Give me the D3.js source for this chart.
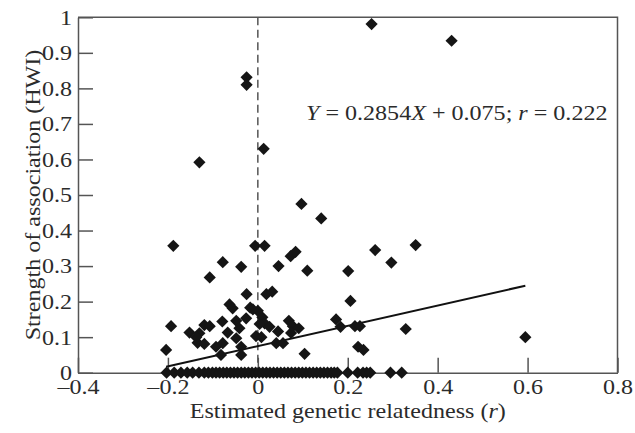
<!DOCTYPE html>
<html>
<head>
<meta charset="utf-8">
<script src="https://cdn.jsdelivr.net/npm/d3@7"></script>
<style>
  html, body { margin: 0; padding: 0; background: #fff; }
  svg { display: block; }
  text { font-family: "Liberation Serif", "Times New Roman", serif; fill: #2b2b2b; }
</style>
</head>
<body>
<svg id="chart" width="635" height="433"></svg>
<script>
// ---- Data ----
// Points with a non-zero association index
const relatedness = [
  0.253, 0.431, -0.025, -0.025, 0.013, -0.130, 0.097, 0.141, -0.188, -0.006,
  0.015, 0.261, 0.351, 0.073, 0.084, -0.078, -0.037, 0.046, 0.297, 0.110,
  0.201, -0.107, -0.025, 0.019, 0.032, 0.206, -0.063, -0.056, -0.017, 0.000,
  -0.026, -0.048, 0.010, 0.015, 0.004, 0.026, 0.045, 0.069, 0.078, 0.091,
  0.074, 0.174, 0.184, 0.216, 0.227, 0.329, -0.193, -0.119, -0.107, -0.079,
  -0.152, -0.130, -0.067, -0.041, -0.004, 0.008, 0.041, 0.056, -0.134, -0.119,
  -0.093, -0.078, -0.048, -0.037, -0.082, -0.037, 0.104, -0.204, 0.223, 0.235,
  0.595, -0.137, -0.011
];
const hwi = [
  0.981, 0.934, 0.831, 0.810, 0.630, 0.592, 0.475, 0.434, 0.357, 0.357,
  0.357, 0.345, 0.359, 0.328, 0.340, 0.311, 0.298, 0.300, 0.310, 0.287,
  0.286, 0.268, 0.221, 0.221, 0.228, 0.202, 0.192, 0.181, 0.183, 0.174,
  0.153, 0.146, 0.156, 0.139, 0.137, 0.129, 0.116, 0.146, 0.131, 0.125,
  0.112, 0.150, 0.129, 0.131, 0.131, 0.123, 0.131, 0.134, 0.131, 0.144,
  0.113, 0.111, 0.113, 0.125, 0.103, 0.100, 0.083, 0.083, 0.084, 0.081,
  0.073, 0.083, 0.097, 0.073, 0.050, 0.050, 0.053, 0.064, 0.073, 0.064,
  0.100, 0.100, 0.178
];
// Pairs with zero association (HWI = 0)
const zeroRelatedness = [
  -0.203, -0.186, -0.171, -0.157, -0.145, -0.131, -0.119, -0.110, -0.101, -0.093,
  -0.085, -0.077, -0.069, -0.061, -0.053, -0.045, -0.037, -0.029, -0.021, -0.013,
  -0.005, 0.003, 0.011, 0.019, 0.027, 0.035, 0.043, 0.051, 0.059, 0.067,
  0.075, 0.083, 0.091, 0.099, 0.107, 0.115, 0.123, 0.131, 0.139, 0.147,
  0.155, 0.163, 0.170, 0.177, 0.200, 0.222, 0.234, 0.242, 0.250, 0.295,
  0.320
];
// Regression: Y = 0.2854X + 0.075
const regSlope = 0.2854;
const regIntercept = 0.075;
const regRange = [-0.204, 0.595];

const xTicks = [-0.4, -0.2, 0, 0.2, 0.4, 0.6, 0.8];
const xTickLabels = ["\u20130.4", "\u20130.2", "0", "0.2", "0.4", "0.6", "0.8"];
const yTicks = [0, 0.1, 0.2, 0.3, 0.4, 0.5, 0.6, 0.7, 0.8, 0.9, 1];
const yTickLabels = ["0", "0.1", "0.2", "0.3", "0.4", "0.5", "0.6", "0.7", "0.8", "0.9", "1"];

(function () {
// ---- Layout ----
const svg = d3.select("#chart");
const pL = 78, pR = 617.5, pT = 17.3, pB = 372.7;
const FS = 21.5;   // font size
const SX = 1.12;   // horizontal widening of the serif face
const x = d3.scaleLinear().domain([-0.4, 0.8]).range([pL, pR]);
const y = d3.scaleLinear().domain([0, 1]).range([pB, pT]);

const points = relatedness.map((r, i) => ({ r, h: hwi[i] }))
  .concat(zeroRelatedness.map(r => ({ r, h: 0 })));

// frame (top & right)
svg.append("path")
  .attr("d", `M${pL},${pT}H${pR}V${pB}`)
  .attr("fill", "none").attr("stroke", "#555").attr("stroke-width", 1.5);

// axes
const xAxis = d3.axisBottom(x).tickValues(xTicks)
  .tickFormat((d, i) => xTickLabels[i]).tickSizeInner(-15).tickSizeOuter(0).tickPadding(6);
const yAxis = d3.axisLeft(y).tickValues(yTicks)
  .tickFormat((d, i) => yTickLabels[i]).tickSizeInner(-15).tickSizeOuter(0).tickPadding(6);

const gx = svg.append("g").attr("transform", `translate(0,${pB})`).call(xAxis);
const gy = svg.append("g").attr("transform", `translate(${pL},0)`).call(yAxis);
[gx, gy].forEach(g => {
  g.select(".domain").attr("stroke", "#555").attr("stroke-width", 1.5);
  g.selectAll(".tick line").attr("stroke", "#555").attr("stroke-width", 1.5);
  g.selectAll(".tick text")
    .attr("font-family", "Liberation Serif, serif")
    .attr("font-size", FS).attr("fill", "#2b2b2b")
    .each(function () {
      const t = d3.select(this);
      const tx = +t.attr("x") || 0;
      t.attr("x", 0).attr("transform", `translate(${tx},0) scale(${SX},1)`);
    });
});

// dashed zero line
svg.append("line")
  .attr("x1", x(0)).attr("x2", x(0)).attr("y1", pT).attr("y2", pB)
  .attr("stroke", "#555").attr("stroke-width", 1.5).attr("stroke-dasharray", "8,4.5");

// regression line
svg.append("line")
  .attr("x1", x(regRange[0])).attr("y1", y(regSlope * regRange[0] + regIntercept))
  .attr("x2", x(regRange[1])).attr("y2", y(regSlope * regRange[1] + regIntercept))
  .attr("stroke", "#111").attr("stroke-width", 2);

// diamonds
const s = 6.1;
svg.append("g").selectAll("path").data(points).join("path")
  .attr("d", `M0,${-s}L${s},0L0,${s}L${-s},0Z`)
  .attr("transform", d => `translate(${x(d.r)},${y(d.h)})`)
  .attr("fill", "#151515");

// equation
const eq = svg.append("text")
  .attr("transform", `translate(306,119.5) scale(${SX},1)`)
  .attr("font-size", FS);
eq.append("tspan").attr("font-style", "italic").text("Y");
eq.append("tspan").text(" = 0.2854");
eq.append("tspan").attr("font-style", "italic").text("X");
eq.append("tspan").text(" + 0.075; ");
eq.append("tspan").attr("font-style", "italic").text("r");
eq.append("tspan").text(" = 0.222");

// axis titles
const xt = svg.append("text")
  .attr("transform", `translate(${(pL + pR) / 2},418) scale(${SX},1)`)
  .attr("text-anchor", "middle").attr("font-size", FS);
xt.append("tspan").text("Estimated genetic relatedness (");
xt.append("tspan").attr("font-style", "italic").text("r");
xt.append("tspan").text(")");

svg.append("text")
  .attr("transform", `translate(40,${(pT + pB) / 2}) rotate(-90) scale(${SX},1)`)
  .attr("text-anchor", "middle").attr("font-size", FS)
  .text("Strength of association (HWI)");
})();
</script>
</body>
</html>
